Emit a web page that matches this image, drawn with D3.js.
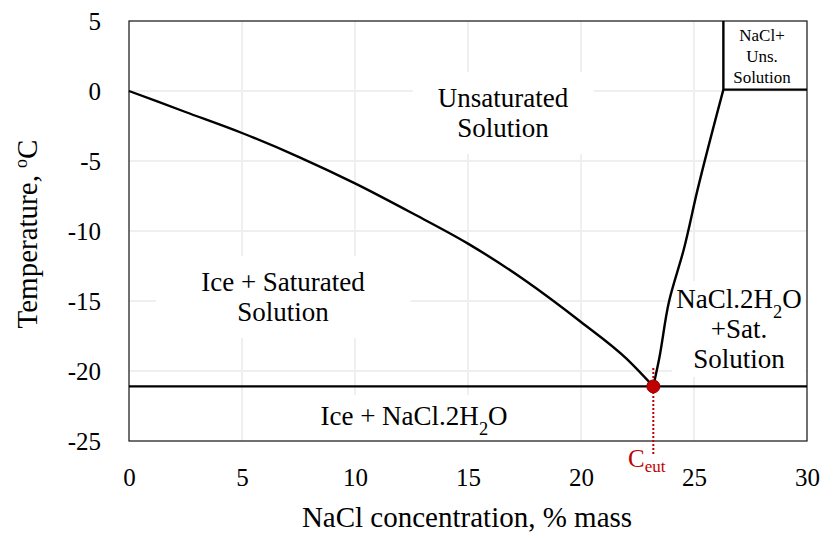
<!DOCTYPE html>
<html><head><meta charset="utf-8">
<script src="https://cdn.jsdelivr.net/npm/d3@7"></script>
<style>body{margin:0;background:#fff}svg{display:block}text{font-family:"Liberation Serif","Times New Roman",serif;fill:#000}</style>
</head><body>
<svg id="c" width="824" height="533"></svg>
<script>
const xTicks = [0,5,10,15,20,25,30];
const yTicks = [5,0,-5,-10,-15,-20,-25];
const liquidusIce = [[0,0],[2.5,-1.5],[5,-3.0],[7.5,-4.7],[10,-6.6],[12.5,-8.7],[15,-10.9],[17.5,-13.5],[20,-16.5],[22,-19.1],[23.2,-21.1]];
const solubilityHyd = [[23.2,-21.1],[23.45,-19.2],[23.9,-15.0],[24.55,-11.3],[25.15,-7.1],[26.3,0.1]];
const eutecticT = -21.1, eutecticC = 23.2;
const peritecticT = 0.1, peritecticC = 26.3;

const svg = d3.select("#c");
const x = d3.scaleLinear().domain([0,30]).range([129,807]);
const y = d3.scaleLinear().domain([-25,5]).range([441,21]);
const SERIF = '"Liberation Serif","Times New Roman",serif';

// gridlines
const g = svg.append("g");
g.selectAll(".gx").data(xTicks.slice(1,-1)).join("line")
 .attr("x1",d=>x(d)).attr("x2",d=>x(d)).attr("y1",y(5)).attr("y2",y(-25))
 .attr("stroke","#efefef").attr("stroke-width",2);
g.selectAll(".gy").data(yTicks.slice(1,-1)).join("line")
 .attr("y1",d=>y(d)).attr("y2",d=>y(d)).attr("x1",x(0)).attr("x2",x(30))
 .attr("stroke","#efefef").attr("stroke-width",2);

// label helper
function label(lines, cx, cy0, lh, fs, pad){
  const grp = svg.append("g");
  const rect = grp.append("rect").attr("fill","#fff");
  const t = grp.append("text").attr("text-anchor","middle").attr("font-size",fs);
  lines.forEach((ln,i)=>{
    const row = t.append("tspan").attr("x",cx).attr("y",cy0+i*lh);
    ln.forEach(p=>{
      const s = row.append("tspan").text(p.t);
      if(p.sub) s.attr("baseline-shift","sub").attr("font-size",fs*0.68);
    });
  });
  const b = t.node().getBBox();
  rect.attr("x",b.x-pad[0]).attr("y",b.y-pad[1]).attr("width",b.width+2*pad[0]).attr("height",b.height+2*pad[1]);
  return grp;
}
label([[{t:"Unsaturated"}],[{t:"Solution"}]], 503, 107, 30, 27, [25,11]);
label([[{t:"Ice + Saturated"}],[{t:"Solution"}]], 283, 291, 30, 27, [45,11]);
label([[{t:"Ice + NaCl.2H"},{t:"2",sub:true},{t:"O"}]], 414, 425, 30, 27, [30,6]);
label([[{t:"NaCl.2H"},{t:"2",sub:true},{t:"O"}],[{t:"+Sat."}],[{t:"Solution"}]], 739, 308, 30, 27, [4,3]);
label([[{t:"NaCl+"}],[{t:"Uns."}],[{t:"Solution"}]], 762, 41, 21, 17, [2,1]);

// frame
svg.append("rect").attr("x",x(0)).attr("y",y(5)).attr("width",x(30)-x(0)).attr("height",y(-25)-y(5))
 .attr("fill","none").attr("stroke","#111").attr("stroke-width",1.2);

const line = d3.line().x(d=>x(d[0])).y(d=>y(d[1]));
svg.append("path").attr("d",d3.line().x(d=>x(d[0])).y(d=>y(d[1])).curve(d3.curveMonotoneX)(liquidusIce))
 .attr("fill","none").attr("stroke","#000").attr("stroke-width",2.4);
svg.append("path").attr("d",d3.line().x(d=>x(d[0])).y(d=>y(d[1])).curve(d3.curveMonotoneY)(solubilityHyd))
 .attr("fill","none").attr("stroke","#000").attr("stroke-width",2.4).attr("stroke-linejoin","round");
// eutectic horizontal
svg.append("line").attr("x1",x(0)).attr("x2",x(30)).attr("y1",y(eutecticT)).attr("y2",y(eutecticT))
 .attr("stroke","#000").attr("stroke-width",2.4);
// peritectic box
svg.append("path").attr("d",line([[peritecticC,5],[peritecticC,peritecticT],[30,peritecticT]]))
 .attr("fill","none").attr("stroke","#000").attr("stroke-width",2.4);

// dotted red
svg.append("line").attr("x1",x(eutecticC)).attr("x2",x(eutecticC)).attr("y1",368).attr("y2",456)
 .attr("stroke","#c00000").attr("stroke-width",2).attr("stroke-dasharray","2,2");
svg.append("circle").attr("cx",x(eutecticC)).attr("cy",y(eutecticT)).attr("r",6.5)
 .attr("fill","#c00000").attr("stroke","#a00000").attr("stroke-width",1);
const ce = svg.append("text").attr("x",628).attr("y",467).attr("font-size",25).style("fill","#c00000");
ce.append("tspan").text("C").style("fill","#c00000");
ce.append("tspan").text("eut").attr("dy",5).attr("font-size",17).style("fill","#c00000");

// axes
const ax = svg.append("g").attr("transform",`translate(0,${y(-25)})`)
 .call(d3.axisBottom(x).tickValues(xTicks).tickSize(0).tickPadding(27).tickFormat(d=>String(d)));
ax.select(".domain").remove();
ax.attr("font-family",SERIF);
ax.selectAll("text").attr("font-size",25).style("font-family",SERIF).style("fill","#000");
const ay = svg.append("g").attr("transform",`translate(${x(0)},0)`)
 .call(d3.axisLeft(y).tickValues(yTicks).tickSize(0).tickPadding(28).tickFormat(d=>String(d)));
ay.select(".domain").remove();
ay.attr("font-family",SERIF);
ay.selectAll("text").attr("font-size",25).style("font-family",SERIF).style("fill","#000");

// titles
svg.append("text").attr("x",467).attr("y",527).attr("text-anchor","middle").attr("font-size",29).text("NaCl concentration, % mass");
const yt = svg.append("text").attr("transform","translate(37,234) rotate(-90)").attr("text-anchor","middle").attr("font-size",29);
yt.append("tspan").text("Temperature, ");
yt.append("tspan").text("o").attr("baseline-shift","super").attr("font-size",18);
yt.append("tspan").text("C");
</script>
</body></html>
